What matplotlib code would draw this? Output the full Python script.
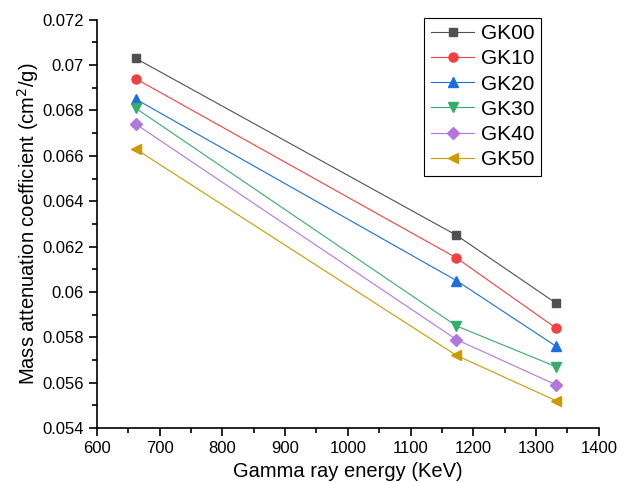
import numpy as np
import matplotlib
matplotlib.use("Agg")
import matplotlib.pyplot as plt
from matplotlib.ticker import MultipleLocator

plt.rcParams['font.family'] = ['Liberation Sans', 'DejaVu Sans']

# gamma energies (keV)
energy = [662, 1173, 1332]

# mass attenuation coefficients
gk00 = [0.0703, 0.0625, 0.0595]
gk10 = [0.0694, 0.0615, 0.0584]
gk20 = [0.0685, 0.0605, 0.0576]
gk30 = [0.0681, 0.0585, 0.0567]
gk40 = [0.0674, 0.0579, 0.0559]
gk50 = [0.0663, 0.0572, 0.0552]

labels = ['GK00', 'GK10', 'GK20', 'GK30', 'GK40', 'GK50']
series = [gk00, gk10, gk20, gk30, gk40, gk50]
colors = ['#515151', '#F14040', '#1A6FDF', '#37AD6B', '#B177DE', '#CC9900']
markers = ['s', 'o', '^', 'v', 'D', '<']
msizes = [6, 6.5, 7, 7, 6, 7]

fig = plt.figure(figsize=(6.29, 4.83), dpi=100)
ax = fig.add_axes([0.154, 0.114, 0.798, 0.845])

for y, lab, c, m, ms in zip(series, labels, colors, markers, msizes):
    ax.plot(energy, y, color=c, marker=m, markersize=ms, linewidth=0.8,
            label=lab)

ax.set_xlim(600, 1400)
ax.set_ylim(0.054, 0.072)
ax.xaxis.set_major_locator(MultipleLocator(100))
ax.xaxis.set_minor_locator(MultipleLocator(50))
ax.yaxis.set_minor_locator(MultipleLocator(0.001))
ax.set_yticks(np.arange(0.054, 0.0721, 0.002))
ax.set_yticklabels(['0.054', '0.056', '0.058', '0.06', '0.062', '0.064',
                    '0.066', '0.068', '0.07', '0.072'])

ax.spines['top'].set_visible(False)
ax.spines['right'].set_visible(False)
ax.spines['left'].set_linewidth(1.2)
ax.spines['bottom'].set_linewidth(1.2)
ax.tick_params(which='major', direction='out', length=6, width=1.2,
               labelsize=12)
ax.tick_params(which='minor', direction='out', length=3.5, width=1.2)

ax.set_xlabel('Gamma ray energy (KeV)', fontsize=14.5)
ax.set_ylabel('Mass attenuation coefficient (cm$^2$/g)', fontsize=14.5,
              va='center')
ax.yaxis.set_label_coords(-0.137, 0.5)

leg = ax.legend(loc='upper right', bbox_to_anchor=(0.884, 1.005), fontsize=15,
                fancybox=False, edgecolor='black', framealpha=1,
                handlelength=2.1, borderpad=0.3, labelspacing=0.3,
                handletextpad=0.3, borderaxespad=0)
leg.get_frame().set_linewidth(0.8)

fig.savefig('out.png', dpi=100)
